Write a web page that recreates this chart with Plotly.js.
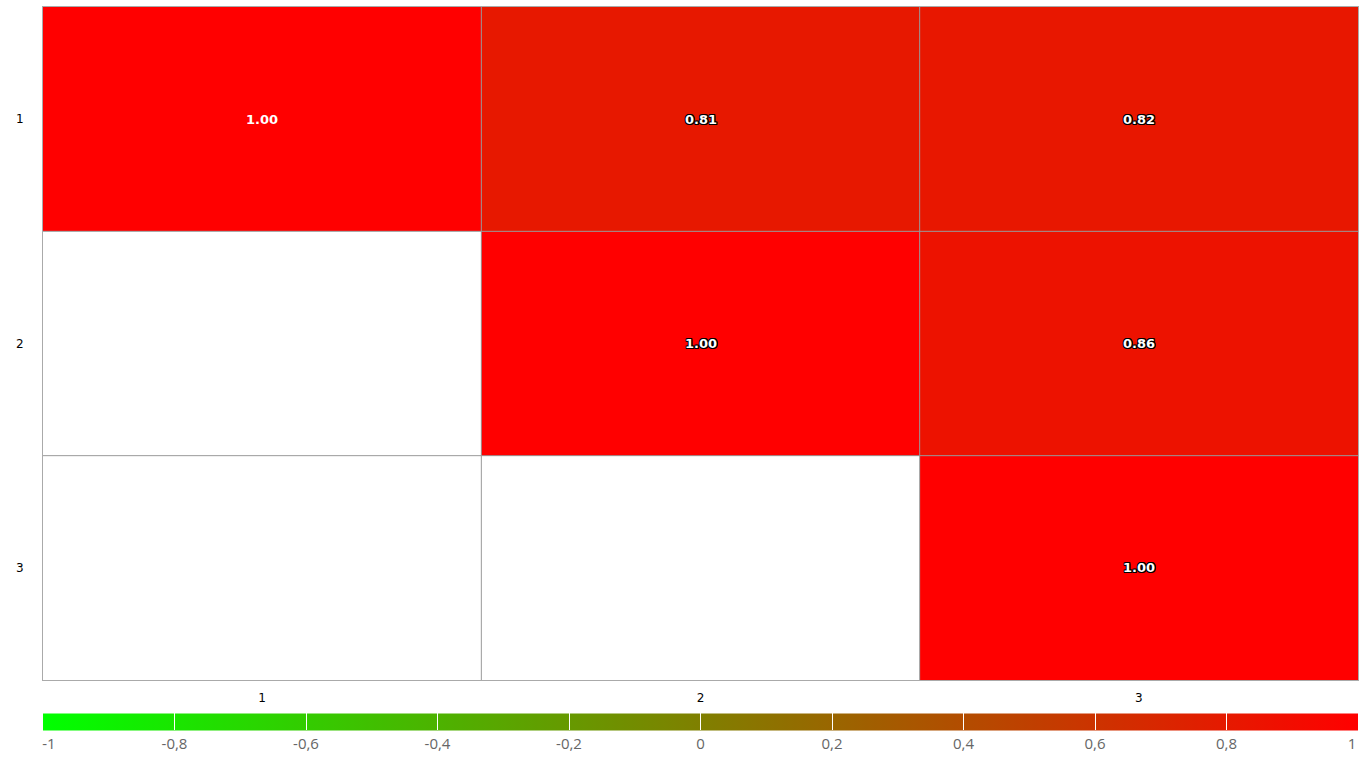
<!DOCTYPE html>
<html>
<head>
<meta charset="utf-8">
<script src="https://cdn.plot.ly/plotly-3.0.1.min.js"></script>
<style>html,body{margin:0;padding:0;background:#fff;}#chart{width:1360px;height:761px;}</style>
</head>
<body>
<div id="chart"></div>
<script>
const xCats = [1, 2, 3];
const yCats = [1, 2, 3];
const zValues = [
  [1.00, 0.81, 0.82],
  [null, 1.00, 0.86],
  [null, null, 1.00]
];
const colorTicks = [-1, -0.8, -0.6, -0.4, -0.2, 0, 0.2, 0.4, 0.6, 0.8, 1];
const colorTickLabels = ['\u00a0\u00a0\u00a0-1', '-0,8', '-0,6', '-0,4', '-0,2', '0', '0,2', '0,4', '0,6', '0,8', '1\u00a0\u00a0\u00a0'];

const annotations = [];
zValues.forEach((row, i) => {
  row.forEach((v, j) => {
    if (v === null) return;
    const outlined = !(i === 0 && j === 0);
    annotations.push({
      x: xCats[j], y: yCats[i], xref: 'x', yref: 'y',
      text: v.toFixed(2), showarrow: false,
      font: {
        family: 'DejaVu Sans, sans-serif', size: 13, color: '#fff', weight: 'bold',
        shadow: outlined ? '1px 1px 0 #000, -1px -1px 0 #000, 1px -1px 0 #000, -1px 1px 0 #000, 0 1px 0 #000, 0 -1px 0 #000, 1px 0 0 #000, -1px 0 0 #000' : 'none'
      }
    });
  });
});

const shapes = [];
for (let k = 1; k < xCats.length; k++) {
  shapes.push({type: 'line', xref: 'x', yref: 'paper', x0: xCats[k] - 0.5, x1: xCats[k] - 0.5, y0: 0, y1: 1, line: {color: '#999', width: 1}, layer: 'above'});
}
for (let k = 1; k < yCats.length; k++) {
  shapes.push({type: 'line', xref: 'paper', yref: 'y', x0: 0, x1: 1, y0: yCats[k] - 0.5, y1: yCats[k] - 0.5, line: {color: '#999', width: 1}, layer: 'above'});
}

const trace = {
  type: 'heatmap',
  x: xCats, y: yCats, z: zValues,
  zmin: -1, zmax: 1,
  colorscale: [[0, 'rgb(0,255,0)'], [1, 'rgb(255,0,0)']],
  hoverongaps: false,
  colorbar: {
    orientation: 'h',
    x: 0, xanchor: 'left', len: 1, lenmode: 'fraction',
    xpad: 0, ypad: 0,
    y: 0.025, yanchor: 'middle', yref: 'container',
    thickness: 17, outlinewidth: 0,
    tickmode: 'array', tickvals: colorTicks, ticktext: colorTickLabels,
    ticks: 'inside', ticklen: 17, tickcolor: '#fff', tickwidth: 1,
    tickfont: {family: 'Open Sans, sans-serif', size: 15, color: '#666'},
    ticklabelposition: 'outside bottom', ticklabeloverflow: 'allow'
  }
};

const layout = {
  width: 1360, height: 761,
  margin: {l: 43, r: 2, t: 7, b: 81, autoexpand: false},
  separators: ',.',
  paper_bgcolor: '#fff', plot_bgcolor: '#fff',
  xaxis: {
    range: [0.5, 3.5], tickvals: xCats, showgrid: false, zeroline: false,
    showline: true, mirror: true, linecolor: '#aaa', linewidth: 1, automargin: false,
    tickfont: {family: 'DejaVu Sans, sans-serif', size: 12, color: '#000'}, ticks: '', ticklabelstandoff: 7
  },
  yaxis: {
    range: [3.5, 0.5], tickvals: yCats, showgrid: false, zeroline: false,
    showline: true, mirror: true, linecolor: '#aaa', linewidth: 1, automargin: false,
    tickfont: {family: 'DejaVu Sans, sans-serif', size: 12, color: '#000'}, ticks: '', ticklabelstandoff: 16
  },
  annotations: annotations,
  shapes: shapes
};

Plotly.newPlot('chart', [trace], layout, {displayModeBar: false, staticPlot: true});
</script>
</body>
</html>
